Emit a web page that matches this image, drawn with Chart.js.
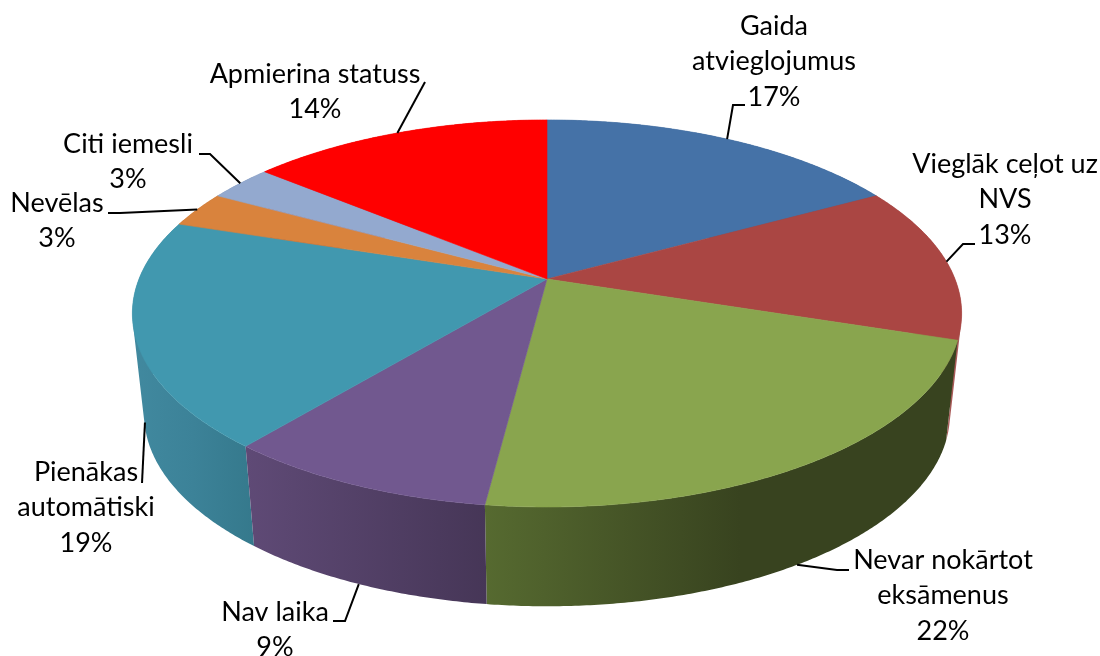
<!DOCTYPE html>
<html>
<head>
<meta charset="utf-8">
<style>
  html, body { margin: 0; padding: 0; background: #fff; overflow: hidden; }
  canvas { display: block; }
</style>
<script src="https://cdn.jsdelivr.net/npm/chart.js@4"></script>
</head>
<body>
<canvas id="Graph" width="1100" height="656"></canvas>
<script>
const categories = ["Gaida atvieglojumus", "Vieglāk ceļot uz NVS", "Nevar nokārtot eksāmenus", "Nav laika",
  "Pienākas automātiski", "Nevēlas", "Citi iemesli", "Apmierina statuss"];
const shares = [17, 13, 22, 9, 19, 3, 3, 14];
const sliceColors = ["#4572A7", "#AA4643", "#89A54E", "#71588F", "#4198AF", "#D9833D", "#93A9CF", "#FF0000"];

// wall shading, left to right across each slice
const wallShades = [
  [[0, "#345680"], [1, "#345680"]],
  [[0, "#a85a58"], [1, "#a85a58"]],
  [[0, "#566a30"], [0.54, "#38431f"], [1, "#38431f"]],
  [[0, "#5f4a76"], [1, "#463657"]],
  [[0, "#41899f"], [0.5, "#3c8298"], [1, "#35798c"]],
  [[0, "#a8652f"], [1, "#a8652f"]],
  [[0, "#71829f"], [1, "#71829f"]],
  [[0, "#c00000"], [1, "#c00000"]],
];

// label lines and where they sit
const labelLines = [
  ["Gaida", "atvieglojumus", "17%"],
  ["Vieglāk ceļot uz", "NVS", "13%"],
  ["Nevar nokārtot", "eksāmenus", "22%"],
  ["Nav laika", "9%"],
  ["Pienākas", "automātiski", "19%"],
  ["Nevēlas", "3%"],
  ["Citi iemesli", "3%"],
  ["Apmierina statuss", "14%"],
];
const labelCenterX = [774, 1005, 943, 275, 86, 57, 128, 315];
const labelFirstY = [26, 164, 560, 612, 472, 203, 144, 74];
const labelLineGap = 35.5;
// wallPart: 0 = leader starts on the top rim, 1 = on the bottom rim
const leaderWallPart = [0, 0, 1, 1, 0.88, 0, 0, 0];
const leaderBends = [
  [[733, 105], [745, 105]],
  [[963, 244], [975, 244]],
  [[837, 570], [849, 570]],
  [[345, 621], [333, 621]],
  [[142, 483]],
  [[120, 213], [108, 213]],
  [[210, 154], [199, 154]],
  [[425, 82]],
];

// the pie is a tilted disc seen in perspective
const topDisc = { x: 547, y: 279, a: 408, b: 187.4, k: 0.178 };
const bottomDisc = { x: 547, y: 380, a: 396.5, b: 186, k: 0.178 };

function project(disc, angle) {
  const u = Math.cos(angle), v = Math.sin(angle);
  const w = 1 - disc.k * v;
  return { x: disc.x + disc.a * u / w, y: disc.y + disc.b * v / w };
}

function rim(disc, from, to) {
  const steps = Math.max(2, Math.ceil(Math.abs(to - from) / 0.008));
  const pts = [];
  for (let i = 0; i <= steps; i++) pts.push(project(disc, from + (to - from) * i / steps));
  return pts;
}

function addPoly(ctx, pts) {
  pts.forEach((p, i) => i ? ctx.lineTo(p.x, p.y) : ctx.moveTo(p.x, p.y));
  ctx.closePath();
}

function area(pts) {
  let s = 0;
  pts.forEach((p, i) => {
    const q = pts[(i + 1) % pts.length];
    s += p.x * q.y - q.x * p.y;
  });
  return s;
}

const pieIn3d = {
  id: "pieIn3d",
  beforeDatasetDraw(chart) {
    const ctx = chart.ctx;
    const arcs = chart.getDatasetMeta(0).data;

    // walls, back ones first
    const order = arcs.map((a, i) => i).sort((i, j) => {
      const mid = k => (arcs[k].startAngle + arcs[k].endAngle) / 2;
      return Math.sin(mid(i)) - Math.sin(mid(j));
    });
    order.forEach(i => {
      const arc = arcs[i];
      const upper = rim(topDisc, arc.startAngle, arc.endAngle);
      const lower = rim(bottomDisc, arc.startAngle, arc.endAngle);
      const xs = upper.concat(lower).map(p => p.x);
      const g = ctx.createLinearGradient(Math.min(...xs), 0, Math.max(...xs), 0);
      wallShades[i].forEach(s => g.addColorStop(s[0], s[1]));
      // one quad per step, all wound the same way so they fill as a union
      ctx.beginPath();
      for (let n = 0; n < upper.length - 1; n++) {
        const quad = [upper[n], upper[n + 1], lower[n + 1], lower[n]];
        addPoly(ctx, area(quad) < 0 ? quad.reverse() : quad);
      }
      ctx.fillStyle = g;
      ctx.fill();
    });

    // top face
    arcs.forEach(arc => {
      const pts = [{ x: topDisc.x, y: topDisc.y }].concat(rim(topDisc, arc.startAngle, arc.endAngle));
      ctx.beginPath();
      addPoly(ctx, pts);
      ctx.fillStyle = arc.options.backgroundColor;
      ctx.fill();
      ctx.strokeStyle = arc.options.backgroundColor;
      ctx.lineWidth = 0.6;
      ctx.stroke();
    });
    return false;
  },
  afterDatasetsDraw(chart) {
    const ctx = chart.ctx;
    const arcs = chart.getDatasetMeta(0).data;
    arcs.forEach((arc, i) => {
      const mid = (arc.startAngle + arc.endAngle) / 2;
      const a = project(topDisc, mid), b = project(bottomDisc, mid);
      const part = leaderWallPart[i];
      ctx.beginPath();
      ctx.moveTo(a.x + (b.x - a.x) * part, a.y + (b.y - a.y) * part);
      leaderBends[i].forEach(p => ctx.lineTo(p[0], p[1]));
      ctx.strokeStyle = "#000";
      ctx.lineWidth = 2;
      ctx.stroke();

      ctx.fillStyle = "#000";
      ctx.font = "27px Lato";
      ctx.textAlign = "center";
      ctx.textBaseline = "middle";
      labelLines[i].forEach((line, n) => {
        ctx.fillText(line, labelCenterX[i], labelFirstY[i] + n * labelLineGap);
      });
    });
  }
};

const canvas = document.getElementById("Graph");

const chart = new Chart(canvas, {
  type: "pie",
  data: {
    labels: categories,
    datasets: [{ data: shares, backgroundColor: sliceColors, borderWidth: 0 }]
  },
  options: {
    responsive: false,
    animation: false,
    plugins: {
      legend: { display: false },
      tooltip: { enabled: false }
    }
  },
  plugins: [pieIn3d]
});
</script>
</body>
</html>
